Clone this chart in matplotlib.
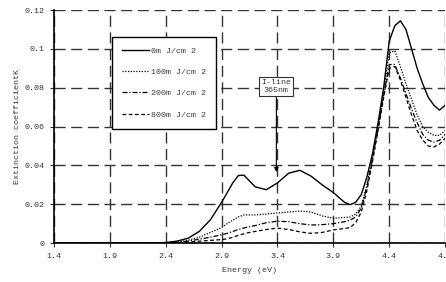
import matplotlib
matplotlib.use("Agg")
import matplotlib.pyplot as plt

# ---- data ----
energy = [1.4, 2.2, 2.4, 2.5, 2.6, 2.7, 2.8, 2.9, 2.95, 3.0, 3.05, 3.1, 3.15, 3.2, 3.3,
          3.4, 3.5, 3.6, 3.7, 3.8, 3.9, 4.0, 4.05, 4.1, 4.15, 4.2, 4.25, 4.3, 4.35,
          4.4, 4.45, 4.5, 4.55, 4.6, 4.65, 4.7, 4.75, 4.8, 4.85, 4.9]

k_0mj = [0, 0, 0.0003, 0.001, 0.0025, 0.006, 0.012, 0.021, 0.026, 0.031, 0.0348, 0.035,
         0.032, 0.029, 0.0275, 0.031, 0.036, 0.0375, 0.0345, 0.030, 0.026, 0.021, 0.0198,
         0.021, 0.025, 0.034, 0.046, 0.062, 0.080, 0.104, 0.112, 0.1145, 0.110, 0.100,
         0.090, 0.082, 0.075, 0.071, 0.0685, 0.071]

k_100mj = [0, 0, 0.0001, 0.0005, 0.0015, 0.003, 0.0055, 0.008, 0.010, 0.0118, 0.0135,
           0.0145, 0.0145, 0.0145, 0.015, 0.0155, 0.016, 0.0165, 0.016, 0.014, 0.0128,
           0.0132, 0.0134, 0.015, 0.019, 0.030, 0.044, 0.060, 0.078, 0.098, 0.099, 0.091,
           0.082, 0.074, 0.066, 0.060, 0.057, 0.0555, 0.0555, 0.058]

k_200mj = [0, 0, 0.0001, 0.0003, 0.001, 0.002, 0.003, 0.0043, 0.005, 0.006, 0.007, 0.0078,
           0.0085, 0.009, 0.0105, 0.0113, 0.011, 0.010, 0.0093, 0.0095, 0.010, 0.011,
           0.0118, 0.0135, 0.018, 0.029, 0.043, 0.059, 0.076, 0.092, 0.092, 0.085, 0.077,
           0.069, 0.062, 0.056, 0.053, 0.052, 0.053, 0.056]

k_800mj = [0, 0, 0.0001, 0.0002, 0.0005, 0.001, 0.0014, 0.0018, 0.0022, 0.003, 0.004,
           0.0048, 0.0055, 0.006, 0.007, 0.0077, 0.007, 0.0058, 0.005, 0.0055, 0.0068,
           0.0075, 0.008, 0.0105, 0.016, 0.027, 0.042, 0.058, 0.075, 0.090, 0.091, 0.084,
           0.075, 0.066, 0.058, 0.053, 0.050, 0.0495, 0.051, 0.054]

series_labels = ["0m J/cm 2", "100m J/cm 2", "200m J/cm 2", "800m J/cm 2"]
x_ticks = [1.4, 1.9, 2.4, 2.9, 3.4, 3.9, 4.4, 4.9]
y_ticks = [0, 0.02, 0.04, 0.06, 0.08, 0.1, 0.12]
y_ticklabels = ["0", "0.02", "0.04", "0.06", "0.08", "0.1", "0.12"]
annot_x = 3.39
annot_y = 0.0366
annot_text = "I-line\n365nm"

# ---- style ----
plt.rcParams['font.family'] = ['Liberation Mono', 'DejaVu Sans']
FS = 6
TXT = '#3a3a3a'

fig = plt.figure(figsize=(4.46, 2.82), dpi=100)
ax = fig.add_axes([0.121, 0.138, 0.877, 0.826])

styles = [dict(ls='-', lw=1.0),
          dict(ls=(0, (1, 1.2)), lw=0.9),
          dict(ls=(0, (4, 1.5, 1, 1.5)), lw=0.9),
          dict(ls=(0, (3, 2)), lw=0.9)]
for ys, lab, st in zip([k_0mj, k_100mj, k_200mj, k_800mj], series_labels, styles):
    ax.plot(energy, ys, color='black', label=lab, **st)

ax.set_xlim(1.4, 4.9)
ax.set_ylim(0, 0.12)
ax.set_xticks(x_ticks)
ax.set_xticklabels([f"{v:.1f}" for v in x_ticks], fontsize=FS, color=TXT)
ax.set_yticks(y_ticks)
ax.set_yticklabels(y_ticklabels, fontsize=FS, color=TXT)
ax.tick_params(axis='both', direction='out', length=3, width=0.8, pad=4, colors='#333333')

ax.grid(True, color='#333333', linestyle=(0, (8, 4)), linewidth=1.0)
ax.set_axisbelow(True)
for s in ['top', 'right']:
    ax.spines[s].set_visible(False)
for s in ['left', 'bottom']:
    ax.spines[s].set_linewidth(1.2)
    ax.spines[s].set_color('black')

ax.set_xlabel("Energy (eV)", fontsize=FS, labelpad=5, color=TXT)
ax.set_ylabel("Extinction coefficientK", fontsize=FS, labelpad=2, color=TXT)

leg = ax.legend(loc='upper left', bbox_to_anchor=(0.148, 0.884), fontsize=FS,
                frameon=True, fancybox=False, framealpha=1, edgecolor='black',
                handlelength=3.2, labelspacing=1.6, borderpad=1.2, handletextpad=0.3,
                borderaxespad=0)
leg.get_frame().set_linewidth(1.0)
for t in leg.get_texts():
    t.set_color(TXT)

ax.annotate(annot_text, xy=(annot_x, annot_y), xytext=(annot_x, 0.0805),
            fontsize=FS, ha='center', va='center', color=TXT,
            bbox=dict(boxstyle='square,pad=0.25', fc='white', ec='#333333', lw=0.8),
            arrowprops=dict(arrowstyle='-|>', color='black', lw=0.8, mutation_scale=6,
                            shrinkA=0, shrinkB=0))

fig.savefig("out.png", dpi=100)
